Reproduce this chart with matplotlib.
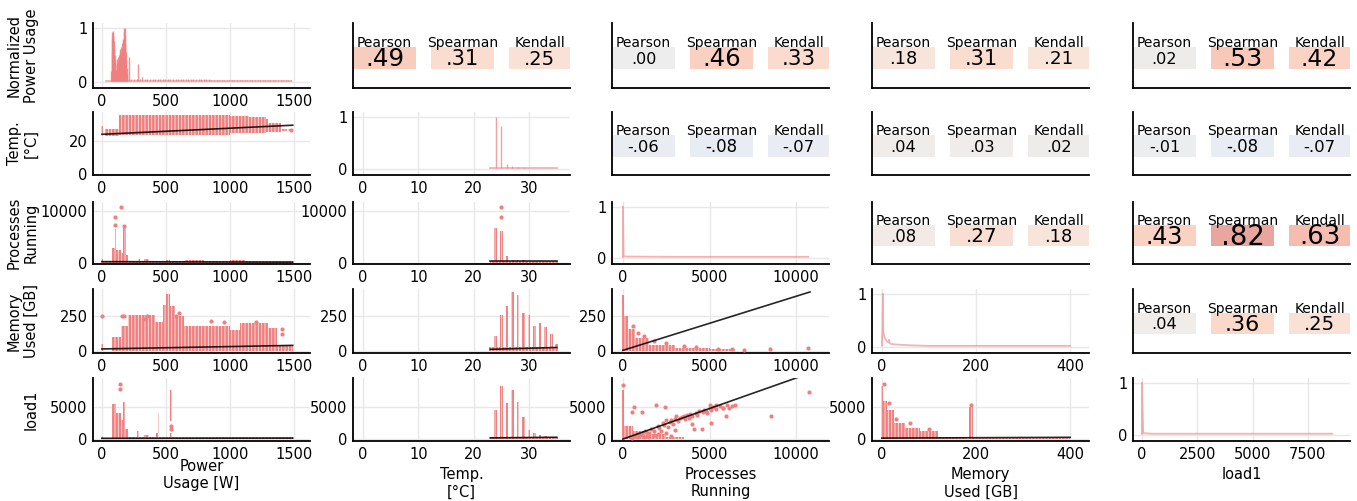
import numpy as np
import matplotlib
matplotlib.use('Agg')
import matplotlib.pyplot as plt
from matplotlib import colors
from matplotlib.patches import Rectangle

plt.rcParams['font.family'] = ['DejaVu Sans']
plt.rcParams['hatch.linewidth'] = 0.6

# ---------------- data ----------------
col_labels = ["Power\nUsage [W]", "Temp.\n[°C]", "Processes\nRunning", "Memory\nUsed [GB]", "load1"]
row_labels = ["Normalized\nPower Usage", "Temp.\n[°C]", "Processes\nRunning", "Memory\nUsed [GB]", "load1"]

x_ticks = [[0, 500, 1000, 1500], [0, 10, 20, 30], [0, 5000, 10000], [0, 200, 400], [0, 2500, 5000, 7500]]
y_ticks = [[0, 1], [0, 20], [0, 10000], [0, 250], [0, 5000]]

# correlation cells (row, col) and values
corr_cells = [(0, 1), (0, 2), (0, 3), (0, 4), (1, 2), (1, 3), (1, 4), (2, 3), (2, 4), (3, 4)]
pearson  = [0.49, 0.00, 0.18, 0.02, -0.06, 0.04, -0.01, 0.08, 0.43, 0.04]
spearman = [0.31, 0.46, 0.31, 0.53, -0.08, 0.03, -0.08, 0.27, 0.82, 0.36]
kendall  = [0.25, 0.33, 0.21, 0.42, -0.07, 0.02, -0.07, 0.18, 0.63, 0.25]
corr_names = ["Pearson", "Spearman", "Kendall"]

# diagonal: normalized value counts
pw_vc_x = [72, 75, 78, 81, 84, 87, 90, 93, 96, 99, 102, 105, 108, 111, 114, 117, 120, 123, 126, 129,
           132, 135, 138, 141, 144, 147, 150, 153, 156, 159, 162, 165, 168, 171, 174, 177, 180, 183,
           186, 189, 192, 195, 198, 208, 230, 250, 270, 283, 300, 315, 335, 355, 375, 395, 415, 435,
           455, 475, 495, 515, 535, 555, 575, 595, 615, 635, 655, 675, 695, 715, 735, 755, 775, 795,
           815, 835, 855, 875, 895, 915, 935, 955, 975, 995, 1015, 1035, 1055, 1075, 1095, 1115, 1135,
           1155, 1175, 1195, 1215, 1235, 1255, 1275, 1295, 1315, 1335, 1355, 1375, 1395, 1415, 1435,
           1455, 1475]
pw_vc_y = [0.2, 0.55, 0.8, 0.92, 0.95, 0.9, 0.85, 0.75, 0.6, 0.5, 0.4, 0.3, 0.22, 0.2, 0.35, 0.3,
           0.42, 0.3, 0.45, 0.38, 0.5, 0.42, 0.55, 0.48, 0.6, 0.5, 0.65, 0.58, 0.72, 0.6, 0.78, 0.7,
           0.8, 1.0, 0.95, 1.0, 0.85, 0.7, 0.55, 0.4, 0.25, 0.15, 0.1, 0.45, 0.05, 0.05, 0.05, 0.33,
           0.05, 0.08, 0.05, 0.05, 0.05, 0.05, 0.05, 0.05, 0.055, 0.05, 0.055, 0.045, 0.045, 0.045,
           0.045, 0.045, 0.04, 0.04, 0.04, 0.04, 0.04, 0.04, 0.04, 0.04, 0.04, 0.04, 0.04, 0.04, 0.035,
           0.035, 0.035, 0.035, 0.035, 0.035, 0.035, 0.035, 0.035, 0.035, 0.035, 0.035, 0.035, 0.035,
           0.035, 0.035, 0.035, 0.035, 0.035, 0.035, 0.03, 0.03, 0.03, 0.03, 0.03, 0.03, 0.03, 0.03,
           0.03, 0.03, 0.03, 0.03]
pw_range = [30, 1480]

temp_vc_x = [23, 24, 25, 26, 27, 28, 29, 30, 31, 32, 33, 34, 35]
temp_vc_y = [0.02, 1.0, 0.82, 0.1, 0.06, 0.03, 0.03, 0.02, 0.02, 0.02, 0.02, 0.02, 0.02]
temp_range = [23, 35]

procs_vc_x = [0, 0, 40, 300, 3000, 10700]
procs_vc_y = [0.02, 1.0, 0.03, 0.025, 0.02, 0.02]

mem_vc_x = [0, 1, 2, 3, 4, 5, 6, 8, 10, 12, 14, 15, 16, 18, 20, 25, 30, 40, 50, 60, 80, 100, 400]
mem_vc_y = [0.02, 0.3, 1.0, 0.28, 0.24, 0.2, 0.17, 0.14, 0.11, 0.09, 0.08, 0.13, 0.07, 0.06, 0.05,
            0.045, 0.04, 0.035, 0.03, 0.025, 0.02, 0.015, 0.015]

load_vc_x = [0, 0, 60, 500, 2000, 8600]
load_vc_y = [0.02, 1.0, 0.03, 0.02, 0.02, 0.02]

# lower panels: point bands (x0, x1, y_lo, y_hi) and isolated points (x, y)
temp_power_bands = [(-6, 6, 24.0, 29.0), (20, 130, 23.0, 27.0), (130, 1000, 23.5, 35.5),
                    (1000, 1150, 24.5, 35.0), (1150, 1280, 25.0, 34.5), (1280, 1300, 25.5, 33.0),
                    (1300, 1400, 25.5, 31.0), (1410, 1445, 26.0, 27.5), (1450, 1490, 26.3, 27.0)]
temp_power_pts = [(1480, 26.5)]

procs_power_bands = [(-6, 6, 0, 700), (6, 80, 0, 350), (80, 100, 0, 2800), (100, 106, 0, 6500),
                     (106, 150, 0, 2500), (150, 168, 0, 2000), (168, 185, 0, 6800), (185, 200, 0, 1500),
                     (200, 280, 0, 350), (280, 295, 0, 800), (295, 330, 0, 350), (330, 370, 0, 800),
                     (370, 500, 0, 400), (500, 530, 0, 550), (530, 650, 0, 350), (650, 800, 0, 550),
                     (800, 1000, 0, 400), (1000, 1120, 0, 650), (1120, 1490, 0, 400)]
procs_power_pts = [(103, 8800), (150, 10800), (101, 7200), (173, 7000)]

mem_power_bands = [(-6, 6, 0, 50), (75, 150, 0, 100), (150, 200, 0, 180), (200, 415, 0, 255),
                   (415, 480, 0, 205), (480, 500, 0, 330), (500, 530, 0, 410), (530, 570, 0, 320),
                   (570, 640, 0, 250), (640, 1000, 0, 180), (1000, 1080, 0, 150), (1080, 1300, 0, 198),
                   (1300, 1370, 0, 165), (1370, 1490, 0, 40)]
mem_power_pts = [(0, 250), (160, 250), (175, 250), (350, 250), (330, 230), (600, 270), (575, 250),
                 (1200, 205), (850, 215), (950, 205), (1410, 160), (1410, 125)]

load_power_bands = [(-6, 6, 0, 300), (6, 80, 0, 150), (80, 110, 0, 5500), (110, 150, 0, 4000),
                    (150, 165, 0, 3000), (165, 180, 0, 5700), (180, 200, 0, 1500), (200, 275, 0, 250),
                    (275, 290, 0, 1300), (290, 330, 0, 250), (330, 370, 0, 700), (370, 420, 0, 250),
                    (420, 436, 0, 1000), (436, 446, 1000, 4000), (446, 535, 0, 300), (535, 548, 2800, 7700),
                    (535, 548, 0, 1000), (548, 1490, 0, 300)]
load_power_pts = [(140, 8500), (140, 7800), (541, 2000), (541, 1500)]

procs_temp_bands = [(23.0, 35.2, 0, 300), (23.75, 24.25, 0, 6800), (24.75, 25.25, 0, 6200),
                    (25.75, 26.25, 0, 1400), (26.75, 27.25, 0, 650), (27.75, 28.25, 0, 650),
                    (28.75, 29.25, 0, 550), (29.75, 30.25, 0, 450), (30.75, 31.25, 0, 400),
                    (31.75, 32.25, 0, 400), (32.75, 33.25, 0, 400), (33.75, 34.25, 0, 400),
                    (34.75, 35.25, 0, 400)]
procs_temp_pts = [(25, 8800), (25, 10800)]

mem_temp_bands = [(23.0, 35.2, 0, 30), (22.75, 23.25, 0, 30), (23.75, 24.25, 0, 110), (24.75, 25.25, 0, 260),
                  (25.75, 26.25, 0, 320), (26.75, 27.25, 0, 420), (27.75, 28.25, 0, 400),
                  (28.75, 29.25, 0, 270), (29.75, 30.25, 0, 260), (30.75, 31.25, 0, 180),
                  (31.75, 32.25, 0, 200), (32.75, 33.25, 0, 170), (33.75, 34.25, 0, 120),
                  (34.75, 35.25, 0, 50)]
mem_temp_pts = []

load_temp_bands = [(23.0, 35.2, 0, 250), (23.75, 24.25, 0, 4500), (24.75, 25.25, 0, 8200),
                   (25.75, 26.25, 0, 5600), (26.75, 27.25, 0, 7700), (27.75, 28.25, 0, 5800),
                   (28.75, 29.25, 0, 3500), (29.75, 30.25, 0, 1400), (30.75, 31.25, 0, 900),
                   (31.75, 32.25, 0, 700), (32.75, 33.25, 0, 500), (33.75, 34.25, 0, 400),
                   (34.75, 35.25, 0, 300)]
load_temp_pts = []

mem_procs_bands = [(-60, 60, 0, 400), (60, 300, 0, 250), (300, 700, 0, 160), (700, 1500, 0, 90),
                   (1500, 3000, 0, 45), (3000, 5000, 0, 25), (5000, 6500, 0, 12)]
mem_procs_pts = [(600, 180), (900, 130), (1200, 110), (1800, 70), (2500, 55), (3500, 35), (4200, 30),
                 (5500, 18), (6300, 12), (7000, 10), (8500, 12), (10700, 22)]

load_procs_bands = [(-60, 60, 0, 7700), (60, 600, 0, 2000), (600, 1500, 0, 1300), (1500, 2500, 0, 800),
                    (2500, 3500, 0, 400)]
load_procs_pts = [(0, 8400), (515, 4175), (645, 5000), (1100, 4270), (1900, 5340), (2410, 5000),
                  (3090, 3540), (3550, 3540), (4010, 2330), (4100, 1600), (4560, 1600), (4840, 4030),
                  (5020, 5240), (5115, 2570), (5390, 5240), (5760, 4900), (6130, 4850), (6500, 5340),
                  (5940, 3540), (8570, 3540), (10760, 7270),
                  (700, 500), (900, 800), (1100, 700), (1300, 1200), (1500, 1000), (1600, 1600),
                  (1800, 1300), (2000, 2100), (2100, 1700), (2200, 1200), (2300, 2500), (2400, 2200),
                  (2500, 2900), (2600, 1900), (2700, 2600), (2800, 3000), (2900, 2400), (3000, 3100),
                  (3200, 2800), (3300, 3300), (3400, 3500), (3600, 3200), (3700, 3700), (3800, 3300),
                  (3900, 3900), (4000, 3600), (4200, 4000), (4300, 3800), (4400, 4300), (4600, 4200),
                  (4700, 4600), (4800, 4400), (5000, 4800), (5100, 4600), (5200, 5000), (5400, 4700),
                  (5600, 5200), (5800, 4800), (6000, 5300), (6300, 5200),
                  (500, 200), (800, 300), (1200, 400), (1500, 300), (1800, 600), (2000, 800),
                  (2500, 1000), (2800, 500), (3000, 1400)]

load_mem_bands = [(-2, 3, 0, 8200), (3, 10, 0, 6000), (10, 25, 0, 4500), (25, 50, 0, 2500),
                  (50, 80, 0, 1800), (80, 120, 0, 1200), (120, 180, 0, 300), (186, 194, 0, 5000),
                  (194, 400, 0, 150)]
load_mem_pts = [(4, 8500), (15, 5600), (30, 3100), (60, 2500), (190, 5300), (100, 1600)]

# regression lines: (intercept, slope, x_min, x_max)
reg_temp_power = (24.0, 0.0037, 0, 1490)
reg_procs_power = (250, -0.06, 0, 1490)
reg_mem_power = (15, 0.017, 0, 1490)
reg_load_power = (120, 0.02, 0, 1490)
reg_procs_temp = (300, 0.0, 23, 35)
reg_mem_temp = (-13, 1.1, 23, 35)
reg_load_temp = (0, 8, 23, 35)
reg_mem_procs = (5, 0.0386, 0, 10800)
reg_load_procs = (0, 0.95, 0, 10800)
reg_load_mem = (150, 0.3, 0, 400)

lower = {
    (1, 0): (temp_power_bands, temp_power_pts, reg_temp_power),
    (2, 0): (procs_power_bands, procs_power_pts, reg_procs_power),
    (3, 0): (mem_power_bands, mem_power_pts, reg_mem_power),
    (4, 0): (load_power_bands, load_power_pts, reg_load_power),
    (2, 1): (procs_temp_bands, procs_temp_pts, reg_procs_temp),
    (3, 1): (mem_temp_bands, mem_temp_pts, reg_mem_temp),
    (4, 1): (load_temp_bands, load_temp_pts, reg_load_temp),
    (3, 2): (mem_procs_bands, mem_procs_pts, reg_mem_procs),
    (4, 2): (load_procs_bands, load_procs_pts, reg_load_procs),
    (4, 3): (load_mem_bands, load_mem_pts, reg_load_mem),
}

# ---------------- layout / style ----------------
W, H = 1357, 501
fig = plt.figure(figsize=(W / 100, H / 100), dpi=100)

col_left = [93, 353, 612, 872, 1133]
col_w = 217
row_top = [23, 112, 202, 289, 378]
row_bot = [88, 175, 264, 353, 441]

xlims = [(-70, 1625), (-1.8, 37.4), (-630, 11900), (-21, 440), (-400, 9400)]
ylims = [None, (-0.6, 37.5), (-200, 11700), (-14, 443), (-300, 9500)]
diag_ylim = (-0.12, 1.09)

pt_color = '#f08080'
grid_color = '#e8e8e8'


def make_ax(i, j):
    l = col_left[j] / W
    b = 1 - row_bot[i] / H
    h = (row_bot[i] - row_top[i]) / H
    ax = fig.add_axes([l, b, col_w / W, h])
    for s in ['top', 'right']:
        ax.spines[s].set_visible(False)
    for s in ['left', 'bottom']:
        ax.spines[s].set_linewidth(1.3)
        ax.spines[s].set_color('black')
    ax.tick_params(length=0, labelsize=10.5, pad=4)
    return ax


def style_data_ax(ax, i, j, diag=False):
    ax.set_xlim(*xlims[j])
    ax.set_xticks(x_ticks[j])
    if diag:
        ax.set_ylim(*diag_ylim)
        ax.set_yticks([0, 1])
    else:
        ax.set_ylim(*ylims[i])
        ax.set_yticks(y_ticks[i])
    ax.grid(True, color=grid_color, lw=1)
    ax.set_axisbelow(True)


norm = colors.Normalize(-1, 1)
cmap = plt.get_cmap('coolwarm')


def fmt(r):
    s = f"{r:.2f}"
    return s.replace("0.", ".", 1)


def value_size(r):
    return float(np.interp(abs(r), [0, 0.1, 0.2, 0.3, 0.36, 0.5, 0.85],
                           [11.5, 12, 13, 15, 16, 18, 20]))


box_x = [(0.0, 0.29), (0.36, 0.65), (0.72, 1.0)]

for i in range(5):
    for j in range(5):
        ax = make_ax(i, j)
        if i == j:
            style_data_ax(ax, i, j, diag=True)
            if i == 0:
                ax.plot(pw_range, [0.015, 0.015], color=pt_color, alpha=0.6, lw=1.3)
                ax.vlines(pw_vc_x, 0.015, pw_vc_y, color=pt_color, lw=1.0, alpha=0.85)
            elif i == 1:
                ax.plot(temp_range, [0.015, 0.015], color=pt_color, alpha=0.6, lw=1.3)
                ax.vlines(temp_vc_x, 0.015, temp_vc_y, color=pt_color, lw=1.0, alpha=0.75)
            elif i == 2:
                ax.plot(procs_vc_x, procs_vc_y, color=pt_color, alpha=0.6, lw=1.3)
            elif i == 3:
                ax.plot(mem_vc_x, mem_vc_y, color=pt_color, alpha=0.6, lw=1.3)
            else:
                ax.plot(load_vc_x, load_vc_y, color=pt_color, alpha=0.6, lw=1.3)
        elif i > j:
            style_data_ax(ax, i, j)
            bands, pts, reg = lower[(i, j)]
            bx0 = np.array([b[0] for b in bands], float)
            bx1 = np.array([b[1] for b in bands], float)
            blo = np.array([b[2] for b in bands], float)
            bhi = np.array([b[3] for b in bands], float)
            ax.bar(bx0, bhi - blo, width=bx1 - bx0, bottom=blo, align='edge',
                   color=pt_color, linewidth=0, hatch='|||||', edgecolor=(1, 1, 1, 0.8), zorder=2)
            if pts:
                ax.scatter([p[0] for p in pts], [p[1] for p in pts], s=9, color=pt_color,
                           linewidths=0, zorder=3)
            a, bslope, x0, x1 = reg
            xs = np.array([x0, x1], float)
            ax.plot(xs, a + bslope * xs, color='black', lw=1.2, alpha=0.85, zorder=4)
        else:
            ax.set_xlim(0, 1)
            ax.set_ylim(0, 1)
            ax.set_xticks([])
            ax.set_yticks([])
            k = corr_cells.index((i, j))
            vals = [pearson[k], spearman[k], kendall[k]]
            for (x0, x1), name, r in zip(box_x, corr_names, vals):
                c = cmap(norm(r))
                ax.add_patch(Rectangle((x0, 0.29), x1 - x0, 0.34, transform=ax.transAxes,
                                       facecolor=c, alpha=0.5, linewidth=0, zorder=1))
                xc = (x0 + x1) / 2
                ax.text(xc, 0.63, name, ha='center', va='baseline', fontsize=10,
                        transform=ax.transAxes, zorder=3)
                ax.text(xc, 0.44, fmt(r), ha='center', va='center', fontsize=value_size(r),
                        transform=ax.transAxes, zorder=3)

# row labels
for i, lab in enumerate(row_labels):
    yc = 1 - (row_top[i] + row_bot[i]) / 2 / H
    fig.text(39 / W, yc, lab, rotation=90, ha='right', va='center', fontsize=10.5,
             multialignment='center')

# column labels
col_label_top = [459, 467, 467, 467, 467]
for j, lab in enumerate(col_labels):
    xc = (col_left[j] + col_w / 2) / W
    fig.text(xc, 1 - col_label_top[j] / H, lab, ha='center', va='top', fontsize=10.5,
             multialignment='center', linespacing=1.2)

fig.savefig('out.png', dpi=100)
